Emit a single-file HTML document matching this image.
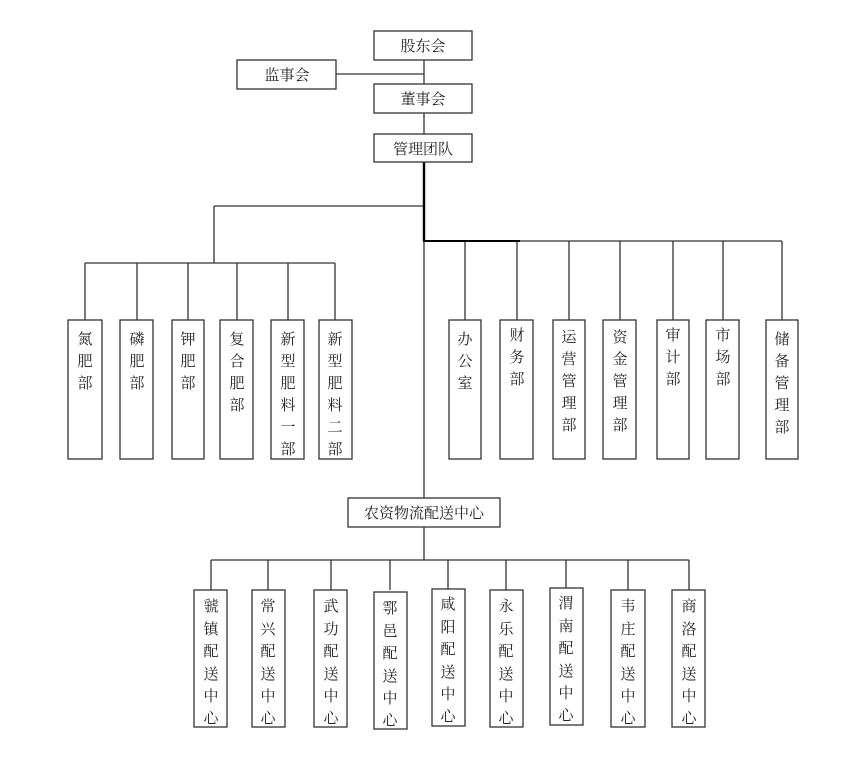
<!DOCTYPE html>
<html><head><meta charset="utf-8"><style>
html,body{margin:0;padding:0;background:#fff;}
svg{display:block;}
text{font-family:"Liberation Serif","Noto Serif CJK SC","Noto Sans CJK SC",serif;font-size:15px;fill:#222;text-anchor:middle;}
</style></head><body>
<svg width="854" height="763" viewBox="0 0 854 763" xmlns="http://www.w3.org/2000/svg">
<g stroke="#333" stroke-width="1.3" fill="none">
<line x1="424" y1="60" x2="424" y2="134"/>
<line x1="336" y1="74" x2="424" y2="74"/>
<line x1="424" y1="240" x2="424" y2="498"/>
<line x1="214" y1="206" x2="424" y2="206"/>
<line x1="214" y1="206" x2="214" y2="263"/>
<line x1="85" y1="263" x2="335" y2="263"/>
<line x1="85" y1="263" x2="85" y2="320"/><line x1="137" y1="263" x2="137" y2="320"/><line x1="188" y1="263" x2="188" y2="320"/><line x1="237" y1="263" x2="237" y2="320"/><line x1="288" y1="263" x2="288" y2="320"/><line x1="335" y1="263" x2="335" y2="320"/>
<line x1="424" y1="241" x2="782" y2="241"/>
<line x1="465" y1="241" x2="465" y2="320"/><line x1="517" y1="241" x2="517" y2="320"/><line x1="569" y1="241" x2="569" y2="320"/><line x1="620" y1="241" x2="620" y2="320"/><line x1="673" y1="241" x2="673" y2="320"/><line x1="723" y1="241" x2="723" y2="320"/><line x1="782" y1="241" x2="782" y2="320"/>
<line x1="424" y1="527" x2="424" y2="560"/>
<line x1="211" y1="560" x2="689" y2="560"/>
<line x1="211" y1="560" x2="211" y2="590"/><line x1="268" y1="560" x2="268" y2="590"/><line x1="331" y1="560" x2="331" y2="590"/><line x1="390" y1="560" x2="390" y2="590"/><line x1="448" y1="560" x2="448" y2="590"/><line x1="506" y1="560" x2="506" y2="590"/><line x1="566" y1="560" x2="566" y2="590"/><line x1="628" y1="560" x2="628" y2="590"/><line x1="689" y1="560" x2="689" y2="590"/>
</g>
<line x1="424" y1="162" x2="424" y2="241" stroke="#000" stroke-width="2.4"/>
<line x1="423" y1="241" x2="520" y2="241" stroke="#000" stroke-width="2"/>
<g stroke="#333" stroke-width="1.3" fill="#fff">
<rect x="374" y="31" width="98" height="29"/>
<rect x="237" y="60" width="99" height="29"/>
<rect x="374" y="84" width="98" height="29"/>
<rect x="374" y="134" width="98" height="28"/>
<rect x="68" y="320" width="34" height="139"/><rect x="120" y="320" width="33" height="139"/><rect x="172" y="320" width="32" height="139"/><rect x="220" y="320" width="33" height="139"/><rect x="271" y="320" width="33" height="139"/><rect x="319" y="320" width="33" height="139"/>
<rect x="449" y="320" width="32" height="139"/><rect x="500" y="320" width="33" height="139"/><rect x="553" y="320" width="32" height="139"/><rect x="603" y="320" width="33" height="139"/><rect x="657" y="320" width="32" height="139"/><rect x="706" y="320" width="33" height="139"/><rect x="766" y="320" width="32" height="139"/>
<rect x="348" y="498" width="152" height="29"/>
<rect x="194" y="590" width="33" height="137"/><rect x="252" y="590" width="33" height="137"/><rect x="314" y="590" width="33" height="137"/><rect x="374" y="592" width="33" height="137"/><rect x="432" y="589" width="33" height="137"/><rect x="490" y="590" width="33" height="137"/><rect x="550" y="588" width="33" height="137"/><rect x="611" y="590" width="34" height="137"/><rect x="672" y="590" width="33" height="137"/>
</g>
<text x="423" y="51">股东会</text>
<text x="287" y="80">监事会</text>
<text x="423" y="104">董事会</text>
<text x="423" y="154">管理团队</text>
<text x="424" y="518">农资物流配送中心</text>
<g id="v"></g>
<text x="85" y="344">氮</text><text x="85" y="366">肥</text><text x="85" y="388">部</text>
<text x="137" y="344">磷</text><text x="137" y="366">肥</text><text x="137" y="388">部</text>
<text x="188" y="344">钾</text><text x="188" y="366">肥</text><text x="188" y="388">部</text>
<text x="237" y="344">复</text><text x="237" y="366">合</text><text x="237" y="388">肥</text><text x="237" y="410">部</text>
<text x="288" y="344">新</text><text x="288" y="366">型</text><text x="288" y="388">肥</text><text x="288" y="410">料</text><text x="288" y="432">一</text><text x="288" y="454">部</text>
<text x="335" y="344">新</text><text x="335" y="366">型</text><text x="335" y="388">肥</text><text x="335" y="410">料</text><text x="335" y="432">二</text><text x="335" y="454">部</text>
<text x="465" y="344">办</text><text x="465" y="366">公</text><text x="465" y="388">室</text>
<text x="517" y="340">财</text><text x="517" y="362">务</text><text x="517" y="384">部</text>
<text x="569" y="342">运</text><text x="569" y="364">营</text><text x="569" y="386">管</text><text x="569" y="408">理</text><text x="569" y="430">部</text>
<text x="620" y="342">资</text><text x="620" y="364">金</text><text x="620" y="386">管</text><text x="620" y="408">理</text><text x="620" y="430">部</text>
<text x="673" y="340">审</text><text x="673" y="362">计</text><text x="673" y="384">部</text>
<text x="723" y="340">市</text><text x="723" y="362">场</text><text x="723" y="384">部</text>
<text x="782" y="344">储</text><text x="782" y="366">备</text><text x="782" y="388">管</text><text x="782" y="410">理</text><text x="782" y="432">部</text>
<g>
<text x="211" y="611">虢</text><text x="211" y="634">镇</text><text x="211" y="656">配</text><text x="211" y="679">送</text><text x="211" y="701">中</text><text x="211" y="723">心</text>
<text x="268" y="611">常</text><text x="268" y="634">兴</text><text x="268" y="656">配</text><text x="268" y="679">送</text><text x="268" y="701">中</text><text x="268" y="723">心</text>
<text x="331" y="611">武</text><text x="331" y="634">功</text><text x="331" y="656">配</text><text x="331" y="679">送</text><text x="331" y="701">中</text><text x="331" y="723">心</text>
<text x="390" y="613">鄠</text><text x="390" y="636">邑</text><text x="390" y="658">配</text><text x="390" y="681">送</text><text x="390" y="703">中</text><text x="390" y="725">心</text>
<text x="448" y="609">咸</text><text x="448" y="632">阳</text><text x="448" y="654">配</text><text x="448" y="677">送</text><text x="448" y="699">中</text><text x="448" y="721">心</text>
<text x="506" y="611">永</text><text x="506" y="634">乐</text><text x="506" y="656">配</text><text x="506" y="679">送</text><text x="506" y="701">中</text><text x="506" y="723">心</text>
<text x="566" y="608">渭</text><text x="566" y="631">南</text><text x="566" y="653">配</text><text x="566" y="676">送</text><text x="566" y="698">中</text><text x="566" y="720">心</text>
<text x="628" y="611">韦</text><text x="628" y="634">庄</text><text x="628" y="656">配</text><text x="628" y="679">送</text><text x="628" y="701">中</text><text x="628" y="723">心</text>
<text x="689" y="611">商</text><text x="689" y="634">洛</text><text x="689" y="656">配</text><text x="689" y="679">送</text><text x="689" y="701">中</text><text x="689" y="723">心</text>
</g>
</svg>
</body></html>
